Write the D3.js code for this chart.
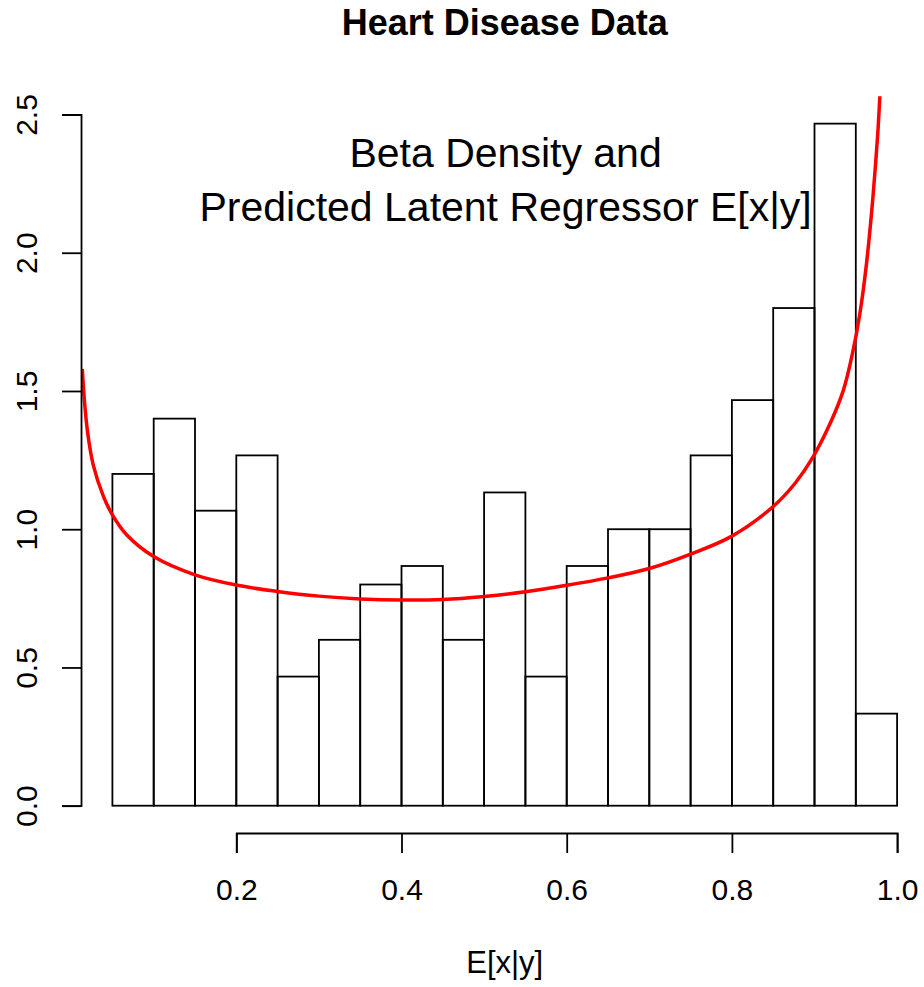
<!DOCTYPE html>
<html>
<head>
<meta charset="utf-8">
<script src="https://cdn.jsdelivr.net/npm/d3@7"></script>
<style>
    body { margin: 0; background: #fff; }
    svg { display: block; font-family: 'Liberation Sans', Arial, Helvetica, sans-serif; }
</style>
</head>
<body>
<div id="chart"></div>
<script>
// histogram bins (width 0.05) and their densities
const binEdges = [0.05, 0.10, 0.15, 0.20, 0.25, 0.30, 0.35, 0.40, 0.45, 0.50,
                  0.55, 0.60, 0.65, 0.70, 0.75, 0.80, 0.85, 0.90, 0.95, 1.00];
const densities = [1.200, 1.400, 1.067, 1.267, 0.467, 0.600, 0.800, 0.867, 0.600, 1.133,
                   0.467, 0.867, 1.000, 1.000, 1.267, 1.467, 1.800, 2.467, 0.333];

// fitted beta density
const curveX = [0.0136, 0.016, 0.020, 0.027, 0.039, 0.050, 0.0675, 0.100, 0.150, 0.200,
                0.250, 0.300, 0.350, 0.400, 0.450, 0.500, 0.550, 0.600, 0.650, 0.700,
                0.750, 0.800, 0.850, 0.877, 0.897, 0.919, 0.935, 0.946, 0.955, 0.963,
                0.969, 0.974, 0.977, 0.979, 0.981];
const curveY = [1.580, 1.470, 1.350, 1.230, 1.120, 1.052, 0.979, 0.901, 0.835, 0.798,
                0.775, 0.758, 0.748, 0.744, 0.746, 0.757, 0.774, 0.797, 0.824, 0.858,
                0.910, 0.975, 1.082, 1.168, 1.255, 1.383, 1.503, 1.636, 1.781, 1.962,
                2.142, 2.323, 2.450, 2.560, 2.680];

const xTicks = [0.2, 0.4, 0.6, 0.8, 1.0];
const yTicks = [0.0, 0.5, 1.0, 1.5, 2.0, 2.5];

const width = 924;
const height = 987;

const x = d3.scaleLinear().domain([0, 1]).range([71.1, 897.1]);
const y = d3.scaleLinear().domain([0, 2.5]).range([805.7, 114.5]);

// R-style plot region: data range extended by 4% each side
const xlim = [binEdges[0], binEdges[binEdges.length - 1]];
const ylim = [0, d3.max(densities)];
const usrX = [xlim[0] - 0.04 * (xlim[1] - xlim[0]), xlim[1] + 0.04 * (xlim[1] - xlim[0])];
const usrY = [ylim[0] - 0.04 * (ylim[1] - ylim[0]), ylim[1] + 0.04 * (ylim[1] - ylim[0])];

const plotLeft = x(usrX[0]);
const plotRight = x(usrX[1]);
const plotTop = y(usrY[1]);
const plotBottom = y(usrY[0]);

const svg = d3.select('#chart')
    .append('svg')
    .attr('width', width)
    .attr('height', height);

svg.append('defs').append('clipPath')
    .attr('id', 'plot-clip')
    .append('rect')
    .attr('x', plotLeft)
    .attr('y', plotTop)
    .attr('width', plotRight - plotLeft)
    .attr('height', plotBottom - plotTop);

// bars
const bins = densities.map((d, i) => ({ x0: binEdges[i], x1: binEdges[i + 1], density: d }));

svg.append('g')
    .selectAll('rect')
    .data(bins)
    .enter().append('rect')
    .attr('x', d => x(d.x0))
    .attr('y', d => y(d.density))
    .attr('width', d => x(d.x1) - x(d.x0))
    .attr('height', d => y(0) - y(d.density))
    .style('fill', 'none')
    .style('stroke', '#000')
    .style('stroke-width', 1.8);

// density curve
const line = d3.line()
    .x(d => x(d[0]))
    .y(d => y(d[1]))
    .curve(d3.curveCatmullRom.alpha(0.5));

svg.append('path')
    .datum(curveX.map((v, i) => [v, curveY[i]]))
    .attr('clip-path', 'url(#plot-clip)')
    .attr('d', line)
    .style('fill', 'none')
    .style('stroke', '#ff0000')
    .style('stroke-width', 3.5);

// x axis, only spanning the tick range like R
const xAxisScale = x.copy().domain([xTicks[0], xTicks[xTicks.length - 1]])
    .range([x(xTicks[0]), x(xTicks[xTicks.length - 1])]);

const xAxis = svg.append('g')
    .attr('transform', `translate(0, ${plotBottom})`)
    .call(d3.axisBottom(xAxisScale)
        .tickValues(xTicks)
        .tickSize(20)
        .tickFormat(d3.format('.1f')));

xAxis.selectAll('path, line').style('stroke', '#000').style('stroke-width', 1.8);
xAxis.selectAll('text')
    .attr('y', 67)
    .attr('dy', null)
    .style('font-size', '30px')
    .style('fill', '#000')
    .style('font-family', "'Liberation Sans', Arial, Helvetica, sans-serif");

// y axis with rotated labels
const yAxisScale = y.copy().domain([yTicks[0], yTicks[yTicks.length - 1]])
    .range([y(yTicks[0]), y(yTicks[yTicks.length - 1])]);

const yAxis = svg.append('g')
    .attr('transform', `translate(${plotLeft}, 0)`)
    .call(d3.axisLeft(yAxisScale)
        .tickValues(yTicks)
        .tickSize(19)
        .tickFormat(d3.format('.1f')));

yAxis.selectAll('path, line').style('stroke', '#000').style('stroke-width', 1.8);
yAxis.selectAll('text')
    .attr('transform', 'rotate(-90)')
    .attr('x', 0)
    .attr('y', -44)
    .attr('dy', null)
    .attr('text-anchor', 'middle')
    .style('font-size', '30px')
    .style('fill', '#000')
    .style('font-family', "'Liberation Sans', Arial, Helvetica, sans-serif");

// title
svg.append('text')
    .attr('x', (plotLeft + plotRight) / 2)
    .attr('y', 35)
    .attr('text-anchor', 'middle')
    .style('font-size', '36px')
    .style('font-weight', 'bold')
    .style('fill', '#000')
    .text('Heart Disease Data');

// annotation inside the plot
const note = svg.append('text')
    .attr('text-anchor', 'middle')
    .style('font-size', '41px')
    .style('fill', '#000');

note.append('tspan')
    .attr('x', x(0.526))
    .attr('y', 167)
    .text('Beta Density and');

note.append('tspan')
    .attr('x', x(0.526))
    .attr('y', 221)
    .text('Predicted Latent Regressor E[x|y]');

// x axis label
svg.append('text')
    .attr('x', (plotLeft + plotRight) / 2)
    .attr('y', 973)
    .attr('text-anchor', 'middle')
    .style('font-size', '31px')
    .style('fill', '#000')
    .text('E[x|y]');
</script>
</body>
</html>
